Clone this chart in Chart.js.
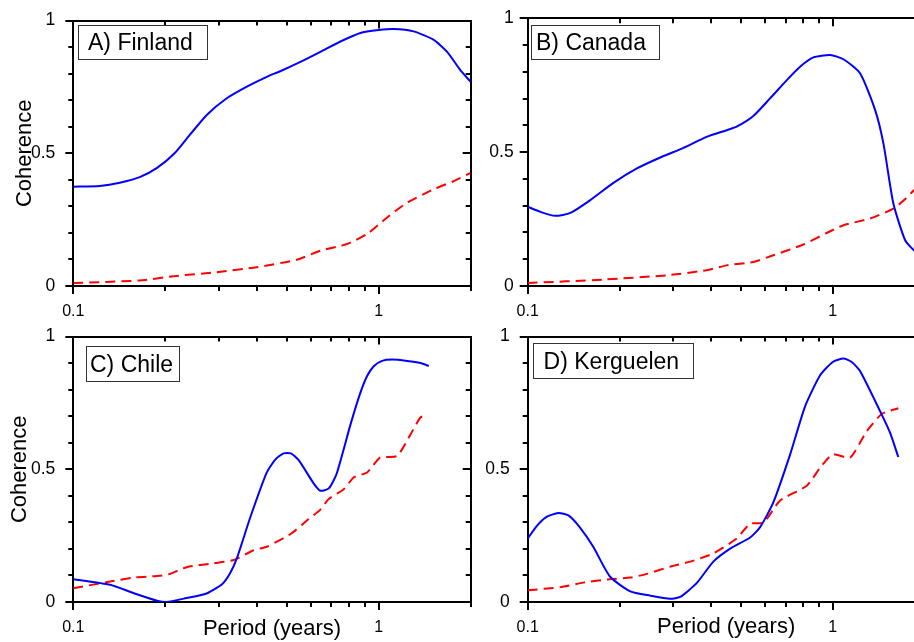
<!DOCTYPE html>
<html>
<head>
<meta charset="utf-8">
<script src="https://cdn.jsdelivr.net/npm/chart.js@4"></script>
<style>
  html, body { margin: 0; padding: 0; background: #fff; }
  #page { position: relative; width: 914px; height: 642px; overflow: hidden; background: #fff; }
  #page canvas { position: absolute; }
</style>
</head>
<body>
<div id="page">
  <canvas id="chartA" width="480" height="326" style="left:0px;top:0px"></canvas>
  <canvas id="chartB" width="480" height="326" style="left:460px;top:0px"></canvas>
  <canvas id="chartC" width="480" height="326" style="left:0px;top:316px"></canvas>
  <canvas id="chartD" width="480" height="326" style="left:460px;top:316px"></canvas>
</div>
<script>
// values (period in years, coherence 0..1)
const finlandPeriod = [0.1, 0.122, 0.142, 0.165, 0.188, 0.215, 0.241, 0.274, 0.318, 0.37, 0.43, 0.476, 0.554, 0.644, 0.749, 0.871, 1.0, 1.12, 1.3, 1.51, 1.675, 1.85, 2.0];
const finlandCoherence = [0.374, 0.377, 0.389, 0.41, 0.445, 0.501, 0.57, 0.645, 0.707, 0.751, 0.788, 0.809, 0.844, 0.882, 0.921, 0.953, 0.964, 0.968, 0.959, 0.928, 0.882, 0.813, 0.769];
const finlandSigPeriod = [0.1, 0.165, 0.213, 0.295, 0.399, 0.54, 0.644, 0.787, 0.916, 1.065, 1.24, 1.51, 1.76, 2.0];
const finlandSig = [0.011, 0.021, 0.037, 0.052, 0.071, 0.099, 0.133, 0.158, 0.196, 0.258, 0.314, 0.364, 0.395, 0.426];

const canadaPeriod = [0.1, 0.11, 0.123, 0.138, 0.16, 0.191, 0.228, 0.272, 0.324, 0.386, 0.449, 0.484, 0.549, 0.623, 0.707, 0.781, 0.864, 0.98, 1.084, 1.23, 1.377, 1.466, 1.58, 1.727, 1.849, 2.0];
const canadaCoherence = [0.296, 0.277, 0.262, 0.273, 0.32, 0.385, 0.439, 0.48, 0.516, 0.557, 0.582, 0.595, 0.635, 0.701, 0.769, 0.819, 0.854, 0.863, 0.847, 0.794, 0.657, 0.532, 0.308, 0.171, 0.133, 0.11];
const canadaSigPeriod = [0.1, 0.177, 0.286, 0.386, 0.449, 0.549, 0.639, 0.801, 0.955, 1.084, 1.325, 1.58, 1.71, 1.849, 2.0];
const canadaSig = [0.011, 0.024, 0.04, 0.059, 0.077, 0.09, 0.115, 0.155, 0.198, 0.227, 0.252, 0.289, 0.32, 0.358, 0.38];

const chilePeriod = [0.1, 0.132, 0.157, 0.188, 0.202, 0.235, 0.27, 0.307, 0.326, 0.343, 0.38, 0.43, 0.459, 0.488, 0.516, 0.547, 0.612, 0.644, 0.686, 0.727, 0.808, 0.867, 0.916, 0.963, 1.025, 1.106, 1.239, 1.37, 1.458];
const chileCoherence = [0.086, 0.065, 0.034, 0.005, 0.0, 0.015, 0.03, 0.067, 0.108, 0.164, 0.32, 0.488, 0.537, 0.56, 0.56, 0.534, 0.447, 0.419, 0.428, 0.481, 0.668, 0.782, 0.851, 0.888, 0.908, 0.913, 0.908, 0.9, 0.889];
const chileSigPeriod = [0.1, 0.132, 0.157, 0.188, 0.205, 0.235, 0.288, 0.335, 0.389, 0.43, 0.516, 0.582, 0.644, 0.686, 0.768, 0.828, 0.916, 1.01, 1.148, 1.27, 1.37, 1.44];
const chileSig = [0.052, 0.077, 0.092, 0.098, 0.104, 0.131, 0.146, 0.158, 0.195, 0.208, 0.257, 0.307, 0.348, 0.388, 0.425, 0.469, 0.488, 0.544, 0.55, 0.631, 0.695, 0.705];

const kerguelenPeriod = [0.1, 0.107, 0.115, 0.126, 0.136, 0.148, 0.164, 0.186, 0.217, 0.252, 0.293, 0.316, 0.358, 0.406, 0.461, 0.536, 0.578, 0.639, 0.725, 0.811, 0.909, 1.0, 1.084, 1.154, 1.23, 1.43, 1.542, 1.64];
const kerguelenCoherence = [0.239, 0.286, 0.32, 0.335, 0.326, 0.282, 0.208, 0.096, 0.04, 0.024, 0.012, 0.019, 0.071, 0.152, 0.201, 0.243, 0.282, 0.376, 0.556, 0.736, 0.854, 0.904, 0.917, 0.904, 0.869, 0.718, 0.637, 0.546];
const kerguelenSigPeriod = [0.1, 0.128, 0.152, 0.186, 0.217, 0.246, 0.293, 0.341, 0.406, 0.484, 0.536, 0.593, 0.672, 0.822, 0.909, 1.0, 1.14, 1.292, 1.447, 1.64];
const kerguelenSig = [0.044, 0.056, 0.073, 0.086, 0.092, 0.106, 0.133, 0.152, 0.183, 0.239, 0.295, 0.299, 0.382, 0.438, 0.506, 0.556, 0.544, 0.643, 0.708, 0.73];

// axis ticks
const periodTicks = [0.1, 1];
const periodMinorTicks = [0.2, 0.3, 0.4, 0.5, 0.6, 0.7, 0.8, 0.9, 2];
const periodTopTicks = [1];
const coherenceTicks = [0, 0.5, 1];
const coherenceMinorTicks = [0.1, 0.2, 0.3, 0.4, 0.6, 0.7, 0.8, 0.9];
const coherenceRightTicks = [0.5];

const FONT = "'Liberation Sans', Arial, Helvetica, sans-serif";
Chart.defaults.font.family = FONT;
Chart.defaults.color = '#000';

function toPoints(xs, ys) {
    return xs.map((x, i) => ({ x: x, y: ys[i] }));
}

// draws the boxed station name in the top left corner of the plot area
const panelLabel = {
    id: 'panelLabel',
    afterDraw(chart, args, o) {
        const { ctx, chartArea } = chart;
        const x = Math.round(chartArea.left + o.dx), y = Math.round(chartArea.top + o.dy);
        ctx.save();
        ctx.fillStyle = '#fff';
        ctx.fillRect(x, y, o.w, o.h);
        ctx.strokeStyle = '#333';
        ctx.lineWidth = 1;
        ctx.strokeRect(x + 0.5, y + 0.5, o.w, o.h);
        ctx.font = '23px ' + FONT;
        ctx.fillStyle = '#000';
        ctx.textBaseline = 'alphabetic';
        ctx.fillText(o.text, x + o.tx, y + o.h / 2 + 8.3);
        ctx.restore();
    }
};

// one axis: fixed size, ticks given as a list, tick length (negative = inward)
function axis(type, position, weight, ticks, tickLength, size, extra) {
    const min = type === 'logarithmic' ? 0.1 : 0;
    const max = type === 'logarithmic' ? 2 : 1;
    const horizontal = position === 'top' || position === 'bottom';
    const a = {
        type: type,
        position: position,
        axis: horizontal ? 'x' : 'y',
        weight: weight,
        min: min,
        max: max,
        afterBuildTicks: s => { s.ticks = ticks.map(v => ({ value: v })); },
        afterFit: s => { if (horizontal) s.height = size; else s.width = size; },
        grid: { drawOnChartArea: false, drawTicks: true, tickLength: tickLength, lineWidth: 2, color: '#000' },
        border: { display: false },
        ticks: { display: false, autoSkip: false }
    };
    return Object.assign(a, extra || {});
}

function makeChart(id, p) {
    const xTickFont = { size: 16, family: FONT };
    const yTickFont = { size: 17.5, family: FONT };
    const titleFont = { size: 22, family: FONT };
    const scales = {
        x: axis('logarithmic', 'bottom', 1, periodTicks, 8, 40, {
            border: { display: true, color: '#000', width: 2 },
            ticks: { display: true, autoSkip: false, maxRotation: 0, padding: 8, font: xTickFont,
                     callback: v => (v === 0.1 ? '0.1' : v === 1 ? '1' : '') },
            title: p.xTitle ? { display: true, text: p.xTitle, font: titleFont, padding: { top: 0, bottom: p.xTitlePad } } : { display: false }
        }),
        xMinor: axis('logarithmic', 'bottom', 0, periodMinorTicks, 5, 0),
        xTop: axis('logarithmic', 'top', 1, periodTopTicks, -8, 0, {
            border: { display: true, color: '#000', width: 2 }
        }),
        xTopMinor: axis('logarithmic', 'top', 0, periodMinorTicks, -5, 0),
        y: axis('linear', 'left', 1, coherenceTicks, 8, p.axisW, {
            border: { display: true, color: '#000', width: 2 },
            ticks: { display: true, autoSkip: false, padding: p.yLabelPad, font: yTickFont,
                     callback: v => (v === 0.5 ? '0.5' : String(v)) },
            title: p.yTitle ? { display: true, text: p.yTitle, font: titleFont, padding: { top: p.yTitlePad, bottom: 0 } } : { display: false }
        }),
        yMinor: axis('linear', 'left', 0, coherenceMinorTicks, 5, 0),
        yRight: axis('linear', 'right', 1, coherenceRightTicks, -8, 0, {
            border: { display: true, color: '#000', width: 2 }
        }),
        yRightMinor: axis('linear', 'right', 0, coherenceMinorTicks, -5, 0)
    };

    return new Chart(document.getElementById(id), {
        type: 'line',
        data: {
            datasets: [{
                label: 'Coherence',
                data: toPoints(p.period, p.coherence),
                borderColor: '#0000ff',
                borderWidth: 2,
                pointRadius: 0,
                tension: 0.2,
                fill: false
            }, {
                label: 'Significance level',
                data: toPoints(p.sigPeriod, p.sig),
                borderColor: '#ff0000',
                borderWidth: 2,
                borderDash: [10, 6],
                pointRadius: 0,
                tension: 0.2,
                fill: false
            }]
        },
        options: {
            responsive: false,
            animation: false,
            devicePixelRatio: 1,
            layout: { padding: { left: 0, top: 18.3, right: p.padRight, bottom: 0 } },
            scales: scales,
            plugins: {
                legend: { display: false },
                tooltip: { enabled: false },
                panelLabel: p.label
            }
        },
        plugins: [panelLabel]
    });
}

makeChart('chartA', {
    period: finlandPeriod, coherence: finlandCoherence, sigPeriod: finlandSigPeriod, sig: finlandSig,
    axisW: 73.3, padRight: 9.3, yLabelPad: 10,
    yTitle: 'Coherence', yTitlePad: 12,
    label: { text: 'A) Finland', dx: 4.7, dy: 4.7, w: 129, h: 34, tx: 10 }
});

makeChart('chartB', {
    period: canadaPeriod, coherence: canadaCoherence, sigPeriod: canadaSigPeriod, sig: canadaSig,
    axisW: 67.7, padRight: 15.4, yLabelPad: 6,
    label: { text: 'B) Canada', dx: 3.3, dy: 6.7, w: 128, h: 34, tx: 5 }
});

makeChart('chartC', {
    period: chilePeriod, coherence: chileCoherence, sigPeriod: chileSigPeriod, sig: chileSig,
    axisW: 73.3, padRight: 9.3, yLabelPad: 10,
    yTitle: 'Coherence', yTitlePad: 7,
    xTitle: 'Period (years)', xTitlePad: 0,
    label: { text: 'C) Chile', dx: 12.7, dy: 9.7, w: 93, h: 35, tx: 4 }
});

makeChart('chartD', {
    period: kerguelenPeriod, coherence: kerguelenCoherence, sigPeriod: kerguelenSigPeriod, sig: kerguelenSig,
    axisW: 67.7, padRight: 15.4, yLabelPad: 10,
    xTitle: 'Period (years)', xTitlePad: 2,
    label: { text: 'D) Kerguelen', dx: 5, dy: 6.7, w: 160, h: 35, tx: 10.6 }
});
</script>
</body>
</html>
